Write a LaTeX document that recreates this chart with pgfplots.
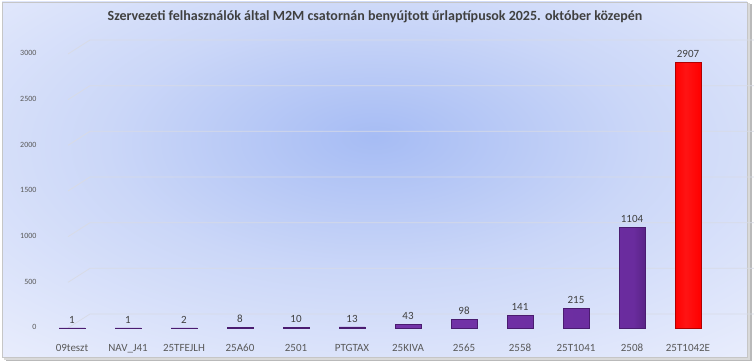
\documentclass[border=0pt]{standalone}
\usepackage{pgfplots}
\pgfplotsset{compat=1.18}
\usepackage{fontspec}
\setmainfont{Carlito}
\definecolor{bgin}{HTML}{A6BCF4}
\definecolor{bgmid}{HTML}{CBD7F8}
\definecolor{bgout}{HTML}{EEF1FD}
\definecolor{pa}{HTML}{6A2C9E}
\definecolor{pm}{HTML}{7838AE}
\definecolor{pb}{HTML}{4A1C70}
\definecolor{ra}{HTML}{FF0000}
\definecolor{rm}{HTML}{FF1414}
\definecolor{rb}{HTML}{B00000}
\definecolor{titlec}{HTML}{404040}
\definecolor{tickc}{HTML}{595959}
\definecolor{gridc}{HTML}{D8DBE6}
\pgfdeclareradialshading{bgshade}{\pgfpoint{0bp}{6bp}}{color(0bp)=(bgin); color(18bp)=(bgmid); color(42bp)=(bgout); color(100bp)=(bgout)}
\pgfdeclarehorizontalshading{barp}{100bp}{color(0bp)=(pa); color(25bp)=(pa); color(45bp)=(pm); color(74bp)=(pa); color(76bp)=(pb); color(100bp)=(pb)}
\pgfdeclarehorizontalshading{barr}{100bp}{color(0bp)=(ra); color(25bp)=(ra); color(45bp)=(rm); color(74bp)=(ra); color(76bp)=(rb); color(100bp)=(rb)}
\begin{document}
\begin{tikzpicture}[x=1pt,y=1pt]
\path[use as bounding box] (0,0) rectangle (754,363);
\fill[gray!55] (6,2) rectangle (752,359);
\fill[gray!30] (4,3) rectangle (750,360);
\path[shading=bgshade, draw=gray!45] (2,6) rectangle (747,361);
\node[font=\bfseries\fontsize{14}{16}\selectfont, text=titlec] at (375,346) {Szervezeti felhasználók által M2M csatornán benyújtott űrlaptípusok 2025. október közepén};
\begin{axis}[
  at={(44pt,35pt)}, anchor=south west,
  scale only axis, width=672pt, height=274pt,
  xmin=-0.5, xmax=11.5, ymin=0, ymax=3000,
  axis line style={draw=none}, major tick style={draw=none}, clip=false,
  ytick={0,500,...,3000},
  xtick={0,...,11},
  xticklabels={09teszt,NAV\_J41,25TFEJLH,25A60,2501,PTGTAX,25KIVA,2565,2558,25T1041,2508,25T1042E},
  typeset ticklabels with strut,
  /pgf/number format/1000 sep={},
  /pgf/number format/assume math mode=true,
  yticklabel style={font=\fontsize{8}{9}\selectfont, text=tickc, xshift=-4pt},
  xticklabel style={font=\fontsize{11}{12}\selectfont, text=tickc, yshift=-7pt},
  ybar, bar width=26pt, bar shift=0pt,
  nodes near coords,
  every node near coord/.append style={font=\fontsize{11}{12}\selectfont, text=titlec, yshift=1pt},
]
\pgfplotsinvokeforeach{0,500,1000,1500,2000,2500,3000}{
  \draw[gridc, line width=0.8pt] (axis cs:-0.5,#1) ++(-4pt,0) -- ++(22pt,14pt) -- ++(660pt,0);
}
\addplot[shading=barp, draw=pb, line width=0.6pt] coordinates {
(0,1) (1,1) (2,2) (3,8) (4,10) (5,13) (6,43) (7,98) (8,141) (9,215) (10,1104)};
\addplot[shading=barr, draw=rb, line width=0.6pt] coordinates {(11,2907)};
\end{axis}
\end{tikzpicture}
\end{document}
